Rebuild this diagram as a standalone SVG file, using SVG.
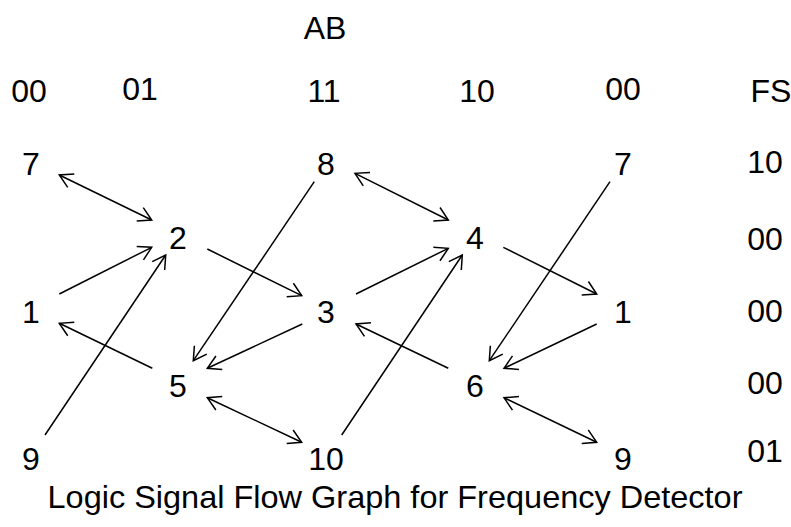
<svg xmlns="http://www.w3.org/2000/svg" width="791" height="527" viewBox="0 0 791 527">
<style>
text{font-family:"Liberation Sans",Arial,sans-serif;font-size:32px;fill:#000;text-anchor:middle}
.e line{stroke:#000;stroke-width:1.5;fill:none}
.s{marker-end:url(#ah)}
.d{marker-start:url(#ah);marker-end:url(#ah)}
</style>
<defs>
<marker id="ah" markerUnits="userSpaceOnUse" orient="auto-start-reverse" overflow="visible" refX="0" refY="0" markerWidth="1" markerHeight="1">
<path d="M-13,-7.5L0,0L-13,7.5" fill="none" stroke="#000" stroke-width="1.5"/>
</marker>
</defs>
<rect width="791" height="527" fill="#fff"/>
<g id="headers">
<text x="325" y="39">AB</text>
<text x="29" y="102">00</text>
<text x="140" y="100">01</text>
<text x="324" y="102">11</text>
<text x="477" y="102">10</text>
<text x="623" y="100">00</text>
<text x="771" y="102">FS</text>
</g>
<g id="fs">
<text x="765" y="173">10</text>
<text x="765" y="250">00</text>
<text x="765" y="322">00</text>
<text x="765" y="394">00</text>
<text x="765" y="462">01</text>
</g>
<g id="n7a"><text x="31" y="175">7</text></g>
<g id="n1a"><text x="31" y="323">1</text></g>
<g id="n9a"><text x="31" y="470">9</text></g>
<g id="n2"><text x="178" y="249">2</text></g>
<g id="n5"><text x="178" y="397">5</text></g>
<g id="n8"><text x="326" y="175">8</text></g>
<g id="n3"><text x="326" y="323">3</text></g>
<g id="n10"><text x="326" y="470">10</text></g>
<g id="n4"><text x="475" y="249">4</text></g>
<g id="n6"><text x="475" y="397">6</text></g>
<g id="n7b"><text x="623" y="175">7</text></g>
<g id="n1b"><text x="623" y="323">1</text></g>
<g id="n9b"><text x="623" y="470">9</text></g>
<g id="edges" class="e">
<line class="d" x1="59.3" y1="175" x2="151.7" y2="220"/>
<line class="s" x1="59.3" y1="294" x2="151.7" y2="247.3"/>
<line class="s" x1="45" y1="435" x2="165.7" y2="255"/>
<line class="s" x1="207.3" y1="249" x2="301.7" y2="295.7"/>
<line class="s" x1="314.3" y1="181.7" x2="193.3" y2="360.7"/>
<line class="s" x1="302.3" y1="324" x2="207.3" y2="368.3"/>
<line class="s" x1="152.3" y1="368.3" x2="59.3" y2="323.3"/>
<line class="d" x1="207.3" y1="397.7" x2="301.7" y2="442.3"/>
<line class="s" x1="341.7" y1="435" x2="462.3" y2="255"/>
<line class="d" x1="355" y1="173.3" x2="448.3" y2="220"/>
<line class="s" x1="356" y1="294" x2="448.3" y2="248.3"/>
<line class="s" x1="503.3" y1="247.3" x2="596.7" y2="294"/>
<line class="s" x1="610" y1="181.7" x2="489.3" y2="360.7"/>
<line class="s" x1="596.7" y1="324" x2="504" y2="368.3"/>
<line class="s" x1="448.3" y1="368.3" x2="356" y2="324"/>
<line class="d" x1="504" y1="397.7" x2="596.7" y2="442.3"/>
</g>
<text x="395" y="508" textLength="695" lengthAdjust="spacingAndGlyphs">Logic Signal Flow Graph for Frequency Detector</text>
</svg>
